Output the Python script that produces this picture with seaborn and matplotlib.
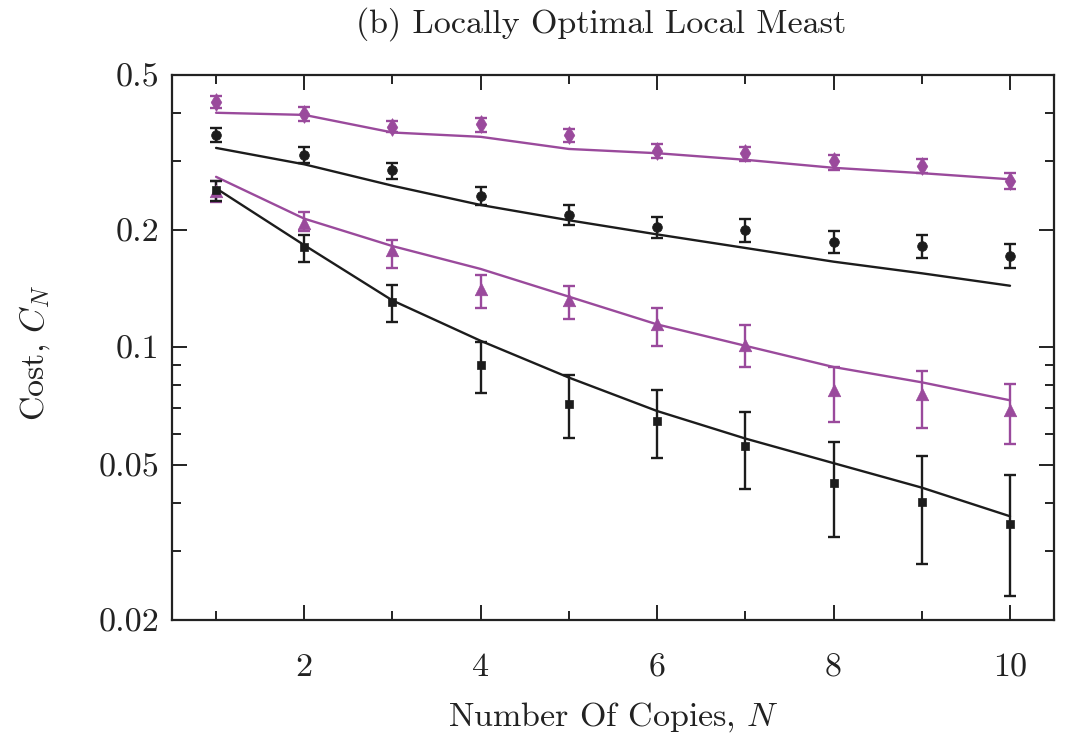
import numpy as np
import pandas as pd
import matplotlib
matplotlib.use("Agg")
import matplotlib.pyplot as plt
from matplotlib.ticker import FixedLocator, FixedFormatter, NullFormatter
import seaborn as sns

# Number of copies
N = [1, 2, 3, 4, 5, 6, 7, 8, 9, 10]

# Simulated costs (markers) with error-bar bounds, and model curves (lines)
diamond_val = [0.426, 0.397, 0.368, 0.374, 0.351, 0.320, 0.315, 0.300, 0.292, 0.268]
diamond_hi  = [0.442, 0.415, 0.382, 0.388, 0.363, 0.333, 0.327, 0.312, 0.305, 0.280]
diamond_lo  = [0.411, 0.382, 0.356, 0.358, 0.337, 0.307, 0.301, 0.286, 0.280, 0.255]
diamond_fit = [0.400, 0.395, 0.356, 0.347, 0.323, 0.315, 0.303, 0.289, 0.280, 0.270]

circle_val = [0.351, 0.312, 0.285, 0.245, 0.219, 0.204, 0.200, 0.187, 0.182, 0.172]
circle_hi  = [0.366, 0.326, 0.298, 0.258, 0.232, 0.216, 0.213, 0.199, 0.194, 0.184]
circle_lo  = [0.336, 0.298, 0.270, 0.232, 0.206, 0.191, 0.187, 0.175, 0.170, 0.160]
circle_fit = [0.325, 0.295, 0.260, 0.232, 0.212, 0.195, 0.180, 0.166, 0.155, 0.144]

triangle_val = [0.252, 0.209, 0.178, 0.141, 0.132, 0.115, 0.1016, 0.0777, 0.0759, 0.069]
triangle_hi  = [0.267, 0.222, 0.189, 0.153, 0.144, 0.126, 0.114, 0.0891, 0.0869, 0.0805]
triangle_lo  = [0.236, 0.199, 0.160, 0.126, 0.118, 0.101, 0.0891, 0.0644, 0.0623, 0.0567]
triangle_fit = [0.274, 0.214, 0.182, 0.159, 0.135, 0.1146, 0.101, 0.0891, 0.0814, 0.0732]

square_val = [0.254, 0.181, 0.131, 0.090, 0.0718, 0.0648, 0.0559, 0.0449, 0.0402, 0.0352]
square_hi  = [0.267, 0.194, 0.145, 0.1033, 0.0849, 0.0777, 0.0685, 0.0572, 0.0526, 0.0472]
square_lo  = [0.237, 0.166, 0.1163, 0.0762, 0.0587, 0.0522, 0.0433, 0.0326, 0.0279, 0.0230]
square_fit = [0.256, 0.183, 0.132, 0.104, 0.0837, 0.0687, 0.0584, 0.0505, 0.0437, 0.0369]

y_tick_values = [0.02, 0.05, 0.1, 0.2, 0.5]
y_tick_labels = ["0.02", "0.05", "0.1", "0.2", "0.5"]
y_minor_values = [0.03, 0.04, 0.06, 0.07, 0.08, 0.09, 0.3, 0.4]
x_tick_values = [2, 4, 6, 8, 10]
x_minor_values = [1, 3, 5, 7, 9]

PURPLE = "#9a4a9c"
BLACK = "#1c1c1c"
INK = "#222222"
FS = 24.5

sns.set_theme(style="ticks")
plt.rcParams["font.family"] = ["cmr10", "DejaVu Serif"]
plt.rcParams["mathtext.fontset"] = "cm"
plt.rcParams["axes.unicode_minus"] = False

series = [
    ("diamond", diamond_val, diamond_lo, diamond_hi, diamond_fit, PURPLE, "d", 9),
    ("circle", circle_val, circle_lo, circle_hi, circle_fit, BLACK, "o", 7),
    ("triangle", triangle_val, triangle_lo, triangle_hi, triangle_fit, PURPLE, "^", 9),
    ("square", square_val, square_lo, square_hi, square_fit, BLACK, "s", 6),
]

rows = []
for name, val, lo, hi, fit, color, marker, ms in series:
    for n, v, l, h, f in zip(N, val, lo, hi, fit):
        rows.append(dict(N=n, series=name, value=v, lo=l, hi=h, fit=f))
df = pd.DataFrame(rows)

fig = plt.figure(figsize=(10.68, 7.33), dpi=100)
ax = fig.add_axes([0.161, 0.1542, 0.826, 0.7435])

palette = {name: color for name, _, _, _, _, color, _, _ in series}

# Model curves
sns.lineplot(data=df, x="N", y="fit", hue="series", palette=palette,
             linewidth=1.7, legend=False, ax=ax, zorder=2)

# Simulation points with error bars
for name, val, lo, hi, fit, color, marker, ms in series:
    sub = df[df["series"] == name]
    yerr = np.vstack([sub["value"] - sub["lo"], sub["hi"] - sub["value"]])
    ax.errorbar(sub["N"], sub["value"], yerr=yerr, fmt="none", ecolor=color,
                elinewidth=1.7, capsize=4, capthick=1.7, zorder=3)
    sns.scatterplot(x=sub["N"], y=sub["value"], color=color, marker=marker,
                    s=ms ** 2, edgecolor=color, linewidth=0.5, ax=ax, zorder=4,
                    legend=False)

ax.set_yscale("log")
ax.set_ylim(0.02, 0.5)
ax.set_xlim(0.5, 10.5)

ax.yaxis.set_major_locator(FixedLocator(y_tick_values))
ax.yaxis.set_major_formatter(FixedFormatter(y_tick_labels))
ax.yaxis.set_minor_locator(FixedLocator(y_minor_values))
ax.yaxis.set_minor_formatter(NullFormatter())
ax.xaxis.set_major_locator(FixedLocator(x_tick_values))
ax.xaxis.set_minor_locator(FixedLocator(x_minor_values))

ax.tick_params(which="both", direction="in", top=True, right=True,
               width=1.4, color=INK, labelsize=FS, labelcolor=INK)
ax.tick_params(which="major", length=11)
ax.tick_params(which="minor", length=6.5)
ax.tick_params(axis="x", which="major", pad=24)
ax.tick_params(axis="y", which="major", pad=9)

for side in ax.spines.values():
    side.set_visible(True)
    side.set_linewidth(1.6)
    side.set_color(INK)

ax.set_xlabel("Number Of Copies, $N$", fontsize=FS, color=INK, va="center")
ax.xaxis.set_label_coords(0.5, (620 - 717) / 545)
ax.set_ylabel("Cost, $C_N$", fontsize=FS, color=INK, va="center")
ax.yaxis.set_label_coords((35 - 172) / 882, 0.49)
fig.text(601 / 1068, 1 - 24 / 733, "(b) Locally Optimal Local Meast",
         fontsize=FS, color=INK, ha="center", va="center")

fig.savefig("out.png", dpi=100)
